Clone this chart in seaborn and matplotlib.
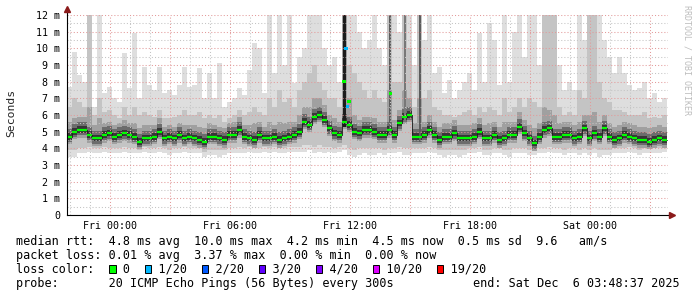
import numpy as np
import matplotlib
matplotlib.use("Agg")
import matplotlib.pyplot as plt
import seaborn as sns
from matplotlib.patches import Rectangle

# ---------------- data (hours relative to Fri 00:00, 15-min bins) ----------------
start_hour = -2.15
step_hours = 0.25

median = [4.7,5.0,5.1,5.1,4.8,4.6,4.6,4.8,4.9,4.7,
          4.8,4.9,4.8,4.7,4.4,4.6,4.6,4.7,5.0,4.6,
          4.7,4.6,4.8,4.6,4.7,4.6,4.5,4.4,4.7,4.7,
          4.6,4.5,4.8,4.8,5.1,4.7,4.6,4.5,4.8,4.6,
          4.6,4.7,4.5,4.6,4.7,4.8,5.0,5.6,5.4,5.9,
          6.0,5.7,5.2,4.9,4.8,5.6,5.4,5.0,4.9,5.1,
          5.1,5.0,4.8,4.8,5.1,4.8,5.5,5.9,6.0,4.7,
          4.7,4.8,5.1,4.8,4.5,4.7,4.7,4.9,4.6,4.6,
          4.6,4.7,5.0,4.6,4.6,4.8,4.5,4.6,4.8,4.8,
          5.3,4.9,4.6,4.3,4.7,5.1,5.2,4.7,4.7,4.8,
          4.8,4.6,4.7,5.2,4.6,4.9,4.7,5.2,4.7,4.5,
          4.6,4.8,4.7,4.6,4.5,4.5,4.4,4.5,4.6,4.5]

ping_max = [7.7,9.8,8.4,8.0,12.5,6.5,12.5,7.3,7.7,7.0,
            6.8,9.7,7.6,10.9,7.0,8.9,7.8,7.5,8.9,7.3,
            7.5,7.2,7.8,8.9,7.7,7.8,8.8,7.0,8.5,7.0,
            9.1,6.5,6.8,7.0,7.6,7.2,8.7,10.3,10.0,7.3,
            12.5,8.5,12.5,9.0,12.5,7.9,9.5,10.0,12.5,12.5,
            12.5,10.0,9.0,9.5,8.0,12.5,12.5,12.5,11.0,10.0,
            10.5,12.5,10.0,9.0,12.5,12.5,11.0,12.5,12.5,9.0,
            12.5,10.5,12.5,8.5,8.9,7.3,8.1,7.0,7.5,8.0,
            8.5,7.5,10.9,8.0,11.5,10.5,7.8,12.5,8.0,11.0,
            12.5,9.5,12.5,12.5,9.0,12.5,12.5,12.5,9.0,7.5,
            8.0,7.5,12.5,10.5,12.5,12.5,12.5,10.5,9.5,8.5,
            9.5,8.5,7.8,7.5,7.6,8.0,7.0,7.3,6.8,7.0]

upper_mid = [6.5,7.0,6.8,6.5,12.5,6.0,7.0,6.2,6.3,6.0,
             5.8,6.5,6.0,6.5,6.0,6.2,6.0,5.9,6.3,5.8,
             5.8,5.9,6.0,6.3,6.0,6.0,6.2,5.8,6.0,5.8,
             6.0,5.6,5.8,6.0,6.3,6.0,6.2,6.5,6.2,6.0,
             7.0,6.5,7.5,6.8,7.0,6.5,7.5,8.0,8.5,9.0,
             8.0,7.5,7.0,7.0,6.5,12.5,9.0,8.5,8.0,7.5,
             7.0,7.5,7.0,6.8,12.5,8.0,8.0,12.5,10.0,6.5,
             12.5,7.0,7.5,6.5,6.3,6.0,6.0,5.9,6.0,6.2,
             6.3,6.0,6.5,6.2,6.5,6.3,6.0,7.0,6.2,6.5,
             7.0,6.5,7.0,6.8,6.5,12.5,12.5,12.5,6.5,6.0,
             6.2,6.0,7.5,7.0,12.5,12.5,8.0,7.0,6.8,6.3,
             6.3,6.2,6.0,6.0,6.0,6.2,5.8,5.9,5.8,6.0]

upper_dark = [5.6,5.8,5.9,5.9,6.5,5.4,5.8,5.5,5.6,5.4,
              5.5,5.7,5.5,5.5,5.2,5.4,5.4,5.4,5.8,5.3,
              5.4,5.3,5.5,5.4,5.4,5.4,5.3,5.2,5.5,5.4,
              5.3,5.2,5.5,5.6,5.9,5.4,5.4,5.5,5.6,5.3,
              5.6,5.4,5.6,5.5,5.6,5.6,6.0,6.5,6.5,7.0,
              7.0,6.6,6.0,5.8,5.6,12.5,7.0,6.0,5.7,5.9,
              5.9,5.8,5.6,5.6,7.5,5.7,6.3,7.5,7.0,5.5,
              7.0,5.6,6.0,5.6,5.3,5.5,5.5,5.7,5.4,5.4,
              5.4,5.5,5.8,5.4,5.5,5.6,5.3,5.6,5.6,5.6,
              6.2,5.7,5.4,5.2,5.5,6.5,6.3,6.0,5.5,5.6,
              5.6,5.4,5.6,6.0,6.0,6.2,5.6,6.0,5.5,5.3,
              5.4,5.6,5.5,5.4,5.3,5.3,5.2,5.3,5.4,5.3]

ping_min = [3.5,3.5,3.7,3.7,3.8,3.7,3.7,3.8,3.7,3.7,
            3.7,3.8,3.7,3.7,3.7,3.8,3.7,3.7,3.8,3.7,
            3.6,3.7,3.7,3.8,3.7,3.7,3.7,3.5,3.6,3.6,
            3.5,3.6,3.7,3.7,3.7,3.7,3.8,3.7,3.7,3.8,
            3.7,3.8,3.7,3.7,3.8,3.8,3.8,3.8,3.9,3.7,
            3.8,3.7,3.8,3.7,3.8,3.9,3.6,3.5,3.6,3.7,
            3.6,3.6,3.7,3.6,3.7,3.7,3.8,3.6,3.6,3.7,
            3.7,3.7,3.8,3.7,3.6,3.5,3.6,3.6,3.5,3.6,
            3.7,3.7,3.8,3.6,3.6,3.7,3.7,3.6,3.5,3.7,
            3.7,3.7,3.6,3.6,3.7,3.7,3.8,3.7,3.7,3.6,
            3.7,3.7,3.6,3.7,3.6,3.7,3.5,3.6,3.6,3.7,
            3.7,3.7,3.8,3.7,3.6,3.7,3.7,3.7,3.7,3.8]

lower_mid = [3.9,3.9,4.0,4.0,4.1,4.0,4.0,4.1,4.0,4.0,
             4.0,4.1,4.0,4.0,3.9,4.1,4.0,4.0,4.1,4.0,
             3.9,4.0,4.0,4.1,4.0,4.0,4.0,3.8,3.9,3.9,
             3.9,3.9,4.0,4.0,4.1,4.0,4.1,4.0,4.0,4.1,
             4.0,4.1,4.0,4.0,4.1,4.1,4.1,4.2,4.2,4.1,
             4.2,4.1,4.1,4.0,4.1,4.2,4.0,3.9,4.0,4.0,
             4.0,4.0,4.0,3.9,4.0,4.0,4.1,4.0,4.0,4.0,
             4.0,4.0,4.1,4.0,3.9,3.9,3.9,3.9,3.9,3.9,
             4.0,4.0,4.1,3.9,3.9,4.0,4.0,3.9,3.9,4.0,
             4.0,4.0,3.9,3.9,4.0,4.0,4.1,4.0,4.0,3.9,
             4.0,4.0,3.9,4.0,3.9,4.0,3.9,3.9,3.9,4.0,
             4.0,4.0,4.1,4.0,3.9,4.0,4.0,4.0,4.0,4.1]

# bins where (nearly) all pings were slow -> dark columns
dark_col_idx = [55, 64, 67, 70]
dark_col_shade = ["#1c1c1c", "#5c5c5c", "#787878", "#5c5c5c"]

# individual 5-min medians around the bursts, with their loss level
loss_hours = [11.7, 11.8, 11.875, 11.95, 14.025]
loss_values = [8.0, 10.0, 6.5, 6.8, 7.3]
loss_level = ["0", "1/20", "1/20", "0", "0"]

legend_levels = ["0", "1/20", "2/20", "3/20", "4/20", "10/20", "19/20"]
legend_colors = ["#00ff00", "#00b8ff", "#0059ff", "#5e00ff", "#7e00ff", "#dd00ff", "#ff0000"]

x_tick_hours = [0, 3, 6, 9, 12, 15, 18, 21, 24, 27]
x_tick_labels = ["Fri 00:00", "", "Fri 06:00", "", "Fri 12:00", "", "Fri 18:00", "", "Sat 00:00", ""]
y_tick_values = list(range(13))
y_tick_labels = ["0"] + [f"{k} m" for k in range(1, 13)]

stat_lines = [
    "median rtt:  4.8 ms avg  10.0 ms max  4.2 ms min  4.5 ms now  0.5 ms sd  9.6   am/s",
    "packet loss: 0.01 % avg  3.37 % max  0.00 % min  0.00 % now",
    "loss color:    0    1/20    2/20    3/20    4/20    10/20    19/20",
    "probe:       20 ICMP Echo Pings (56 Bytes) every 300s",
]
legend_char_pos = [13, 18, 26, 34, 42, 50, 59]
end_text = "end: Sat Dec  6 03:48:37 2025"

# ---------------- figure ----------------
sns.set_theme(style="white")
plt.rcParams["font.family"] = ["DejaVu Sans Mono", "DejaVu Sans"]

W, H = 697, 297
fig = plt.figure(figsize=(W / 100, H / 100), dpi=100)
fig.patch.set_facecolor("white")
ax = fig.add_axes([67 / W, 82 / H, 601 / W, 200 / H])
ax.set_facecolor("white")

n = len(median)
edges = start_hour + step_hours * np.arange(n + 1)
med = np.array(median)


def band(lower, upper, color, z=1.0):
    lower = np.asarray(lower, float)
    upper = np.asarray(upper, float)
    ax.fill_between(edges, np.append(lower, lower[-1]), np.append(upper, upper[-1]),
                    step="post", color=color, linewidth=0, zorder=z)


# smoke layers, lightest (all pings) to darkest (pings closest to the median)
band(ping_min, ping_max, "#dedede", 1.0)
band(lower_mid, upper_mid, "#c4c4c4", 1.1)
band(med - 0.45, upper_dark, "#a0a0a0", 1.2)
band(med - 0.32, med + 0.45, "#6c6c6c", 1.25)
band(med - 0.18, med + 0.22, "#363636", 1.3)

for idx, shade in zip(dark_col_idx, dark_col_shade):
    w = step_hours * (0.6 if idx == 55 else 0.4)
    xc = edges[idx] + step_hours / 2
    ax.bar(xc, ping_max[idx] - med[idx] + 0.3, bottom=med[idx] - 0.3, width=w,
           color=shade, linewidth=0, zorder=1.4)

# median: dark connectors + green steps
sns.lineplot(x=edges, y=np.append(med, med[-1]), ax=ax, color="#1a1a1a",
             linewidth=0.6, drawstyle="steps-post", estimator=None, sort=False, zorder=3.5)
ax.hlines(med, edges[:-1], edges[1:], colors="#00ff00", linewidth=1.6, zorder=4)

sns.scatterplot(x=loss_hours, y=loss_values, hue=loss_level,
                palette=dict(zip(legend_levels, legend_colors)), marker="s", s=6,
                linewidth=0, legend=False, ax=ax, zorder=5)

# axes limits, ticks & grid
ax.set_xlim(-2.15, 27.9)
ax.set_ylim(0, 12)
ax.set_xticks(x_tick_hours)
ax.set_xticklabels(x_tick_labels)
ax.set_xticks([h for h in range(-2, 28) if h % 3 != 0], minor=True)
ax.set_yticks(y_tick_values)
ax.set_yticklabels(y_tick_labels)
ax.set_yticks([k + 0.5 for k in range(12)], minor=True)

ax.set_axisbelow(False)
ax.grid(which="major", color="#e39a9a", linestyle=(0, (1, 2)), linewidth=0.75)
ax.grid(which="minor", color="#c4c4c4", linestyle=(0, (1, 2)), linewidth=0.75)
ax.tick_params(axis="both", which="both", direction="out", length=2, width=0.6,
               colors="#222222", labelsize=7.2, labelcolor="black")
ax.tick_params(axis="x", pad=2)
ax.tick_params(axis="y", pad=3)
ax.tick_params(axis="x", which="minor", length=2)

for s in ["top", "right"]:
    ax.spines[s].set_visible(False)
for s in ["left", "bottom"]:
    ax.spines[s].set_color("black")
    ax.spines[s].set_linewidth(0.8)
    ax.spines[s].set_zorder(6)

# axis extensions with arrows
ax.plot([0, 0], [1.0, 1.03], transform=ax.transAxes, color="black", lw=0.8, clip_on=False, zorder=6)
ax.plot([1.0, 1.006], [0, 0], transform=ax.transAxes, color="black", lw=0.8, clip_on=False, zorder=6)
ax.plot([0], [1.03], marker="^", markersize=4, color="#8b1a1a", transform=ax.transAxes, clip_on=False, zorder=7)
ax.plot([1.006], [0], marker=">", markersize=4, color="#8b1a1a", transform=ax.transAxes, clip_on=False, zorder=7)

ax.set_xlabel("")
ax.set_ylabel("")
fig.text(11 / W, 1 - 113 / H, "Seconds", rotation=90, ha="center", va="center", fontsize=8.2)
fig.text(687 / W, 1 - 5 / H, "RRDTOOL / TOBI OETIKER", rotation=270, ha="center", va="top",
         fontsize=6, color="#bdbdbd")

# statistics block
char_w = 7.12
baselines = [245, 259, 273, 287]
for line, yb in zip(stat_lines, baselines):
    fig.text(16 / W, 1 - yb / H, line, ha="left", va="baseline", fontsize=8.5, color="black")
fig.text(680 / W, 1 - 287 / H, end_text, ha="right", va="baseline", fontsize=8.5, color="black")

for cpos, col in zip(legend_char_pos, legend_colors):
    x0 = 16 + cpos * char_w + 0.5
    fig.add_artist(Rectangle((x0 / W, 1 - 272.5 / H), 6.5 / W, 8 / H, transform=fig.transFigure,
                             facecolor=col, edgecolor="black", linewidth=0.7))

fig.savefig("out.png", dpi=100, facecolor="white")
